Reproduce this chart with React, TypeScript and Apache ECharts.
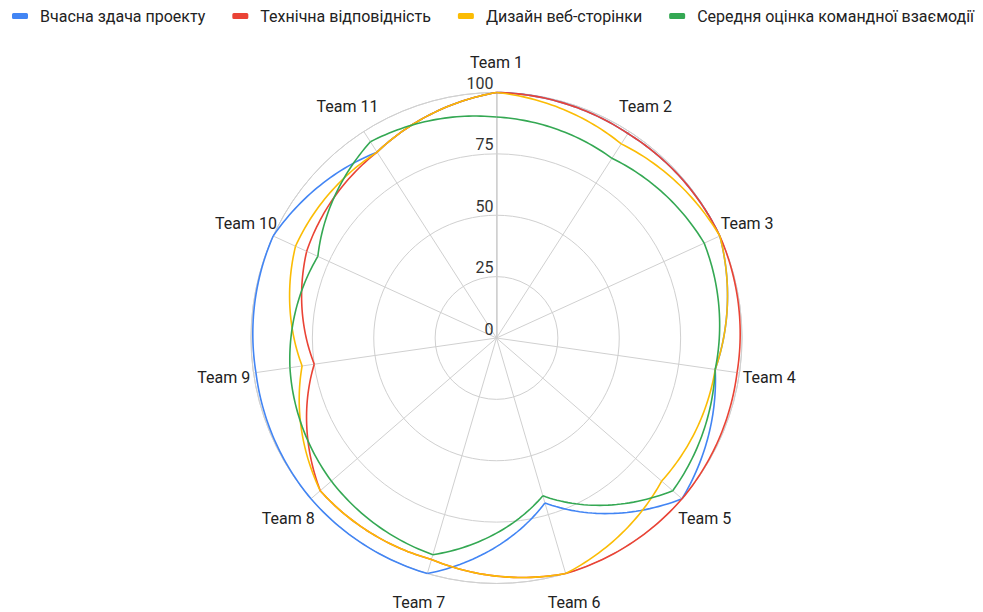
import React, { useEffect, useRef } from "react";
import * as echarts from "echarts";

// Angle axis categories
const teams = [
  "Team 1", "Team 2", "Team 3", "Team 4", "Team 5", "Team 6",
  "Team 7", "Team 8", "Team 9", "Team 10", "Team 11",
];

// Radius axis ticks
const radiusTicks = [0, 25, 50, 75, 100];

const seriesNames = [
  "Вчасна здача проекту",
  "Технічна відповідність",
  "Дизайн веб-сторінки",
  "Середня оцінка командної взаємодії",
];

const onTime = [100, 99, 100, 90, 100, 70, 100, 100, 99, 100, 90];
const technical = [100, 99, 100, 99, 100, 100, 94, 95, 75, 85, 90];
const design = [100, 94, 100, 90, 89, 100, 94, 95, 80, 90, 90];
const teamwork = [90, 87, 93, 90, 95, 67, 92, 89, 85, 80, 95];

const colors = ["#4285F4", "#EA4335", "#FBBC04", "#34A853"];

const FONT = "Roboto, 'Noto Sans', sans-serif";

// A closed polar line whose radius changes linearly with angle between
// neighbouring teams, so each segment bends along the circular grid.
function polarLoop(name: string, values: number[], color: string) {
  const n = values.length;
  return {
    name,
    type: "custom",
    coordinateSystem: "polar",
    itemStyle: { color },
    data: values.map((v, i) => [v, i]),
    renderItem: (params: any, api: any) => {
      const i = params.dataIndex;
      const r0 = api.value(0);
      const a0 = api.value(1);
      const r1 = values[(i + 1) % n];
      const steps = 32;
      const points: number[][] = [];
      for (let s = 0; s <= steps; s++) {
        const t = s / steps;
        points.push(api.coord([r0 + (r1 - r0) * t, a0 + t]));
      }
      return {
        type: "polyline",
        shape: { points },
        style: { stroke: color, lineWidth: 1.6, fill: "none" },
        silent: true,
      };
    },
  };
}

// Team names, centred a fixed distance outside the outer ring.
const teamLabels = {
  name: "teams",
  type: "custom",
  coordinateSystem: "polar",
  silent: true,
  z: 5,
  data: teams.map((_, i) => [radiusTicks[radiusTicks.length - 1], i]),
  renderItem: (params: any, api: any) => {
    const p = api.coord([api.value(0), api.value(1)]);
    const c = api.coord([0, api.value(1)]);
    const dx = p[0] - c[0];
    const dy = p[1] - c[1];
    const len = Math.sqrt(dx * dx + dy * dy) || 1;
    const gap = 30;
    return {
      type: "text",
      x: p[0] + (dx / len) * gap,
      y: p[1] + (dy / len) * gap,
      style: {
        text: teams[params.dataIndex],
        align: "center",
        verticalAlign: "middle",
        fontSize: 16,
        fontFamily: FONT,
        fill: "#222",
      },
    };
  },
};

export default function App() {
  const ref = useRef<HTMLDivElement>(null);

  useEffect(() => {
    if (!ref.current) return;
    const chart = echarts.init(ref.current, undefined, { renderer: "svg" });
    const gridColor = "#d0d0d0";
    chart.setOption({
      animation: false,
      textStyle: { fontFamily: FONT },
      legend: {
        left: 7,
        top: 3,
        itemWidth: 16,
        itemHeight: 6,
        itemGap: 27,
        icon: "roundRect",
        textStyle: { fontSize: 16, color: "#222", fontFamily: FONT, padding: [0, 0, 0, 7] },
        data: seriesNames,
      },
      polar: {
        center: [496.5, 338],
        radius: 245.5,
      },
      angleAxis: {
        type: "value",
        min: 0,
        max: teams.length,
        interval: 1,
        startAngle: 90,
        clockwise: true,
        axisLine: { show: true, lineStyle: { color: gridColor, width: 1 } },
        axisTick: { show: false },
        splitLine: { show: true, lineStyle: { color: gridColor, width: 1 } },
        axisLabel: { show: false },
      },
      radiusAxis: {
        type: "value",
        min: radiusTicks[0],
        max: radiusTicks[radiusTicks.length - 1],
        interval: 25,
        axisLine: { show: true, lineStyle: { color: gridColor, width: 1.5 } },
        axisTick: { show: false },
        splitLine: { show: true, lineStyle: { color: gridColor, width: 1 } },
        axisLabel: {
          margin: 3,
          fontSize: 16,
          color: "#333",
          fontFamily: FONT,
          align: "right",
          verticalAlign: "bottom",
          padding: [0, 0, 1, 0],
        },
      },
      series: [
        polarLoop(seriesNames[0], onTime, colors[0]),
        polarLoop(seriesNames[1], technical, colors[1]),
        polarLoop(seriesNames[2], design, colors[2]),
        polarLoop(seriesNames[3], teamwork, colors[3]),
        teamLabels,
      ],
    });
    return () => chart.dispose();
  }, []);

  return (
    <div
      ref={ref}
      style={{ position: "fixed", left: 0, top: 0, width: 983, height: 612, background: "#fff" }}
    />
  );
}
